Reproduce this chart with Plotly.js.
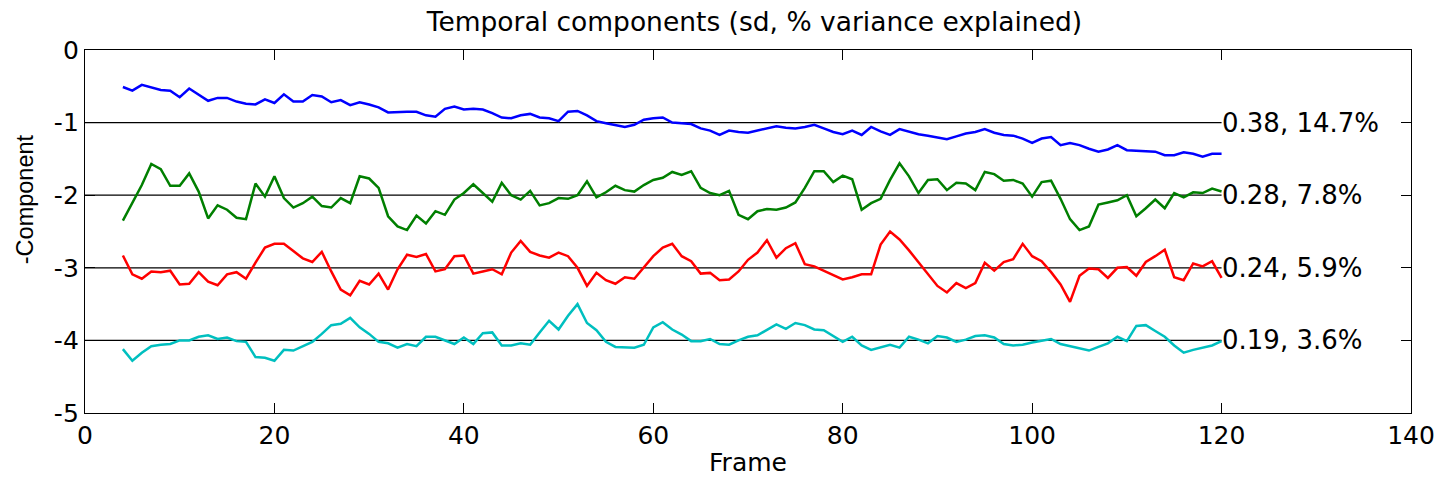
<!DOCTYPE html>
<html>
<head>
<meta charset="utf-8">
<script src="https://cdn.plot.ly/plotly-3.0.1.min.js"></script>
<style>html,body{margin:0;padding:0;background:#fff;}#chart{width:1437px;height:480px;}</style>
</head>
<body>
<div id="chart"></div>
<script>
const frames = [4,5,6,7,8,9,10,11,12,13,14,15,16,17,18,19,20,21,22,23,24,25,26,27,28,29,30,31,32,33,34,35,36,37,38,39,40,41,42,43,44,45,46,47,48,49,50,51,52,53,54,55,56,57,58,59,60,61,62,63,64,65,66,67,68,69,70,71,72,73,74,75,76,77,78,79,80,81,82,83,84,85,86,87,88,89,90,91,92,93,94,95,96,97,98,99,100,101,102,103,104,105,106,107,108,109,110,111,112,113,114,115,116,117,118,119,120];

const comp1 = [-0.51,-0.56,-0.48,-0.51,-0.55,-0.56,-0.65,-0.53,-0.62,-0.70,
-0.66,-0.66,-0.71,-0.74,-0.75,-0.68,-0.73,-0.61,-0.71,-0.71,
-0.62,-0.64,-0.72,-0.69,-0.76,-0.72,-0.75,-0.79,-0.86,-0.85,
-0.85,-0.85,-0.90,-0.92,-0.81,-0.78,-0.82,-0.81,-0.82,-0.87,
-0.93,-0.94,-0.90,-0.88,-0.93,-0.94,-0.98,-0.85,-0.84,-0.90,
-0.98,-1.01,-1.04,-1.06,-1.03,-0.96,-0.94,-0.93,-1.00,-1.01,
-1.02,-1.08,-1.11,-1.17,-1.11,-1.13,-1.14,-1.11,-1.08,-1.05,
-1.07,-1.08,-1.06,-1.03,-1.08,-1.13,-1.16,-1.11,-1.17,-1.06,
-1.12,-1.17,-1.09,-1.13,-1.16,-1.18,-1.20,-1.23,-1.19,-1.15,
-1.13,-1.09,-1.14,-1.17,-1.18,-1.22,-1.28,-1.22,-1.20,-1.31,
-1.28,-1.31,-1.36,-1.40,-1.37,-1.31,-1.38,-1.39,-1.39,-1.40,
-1.45,-1.45,-1.41,-1.43,-1.47,-1.43,-1.43];

const comp2 = [-2.35,-2.11,-1.86,-1.57,-1.64,-1.87,-1.87,-1.70,-1.95,-2.32,
-2.14,-2.20,-2.31,-2.33,-1.84,-2.02,-1.74,-2.04,-2.17,-2.11,
-2.02,-2.15,-2.17,-2.04,-2.11,-1.74,-1.77,-1.90,-2.29,-2.43,
-2.48,-2.28,-2.39,-2.22,-2.27,-2.06,-1.97,-1.85,-1.97,-2.09,
-1.83,-2.00,-2.06,-1.94,-2.14,-2.11,-2.04,-2.05,-2.00,-1.81,
-2.03,-1.96,-1.87,-1.93,-1.95,-1.86,-1.79,-1.76,-1.68,-1.72,
-1.67,-1.90,-1.97,-2.00,-1.94,-2.27,-2.33,-2.22,-2.19,-2.20,
-2.17,-2.10,-1.90,-1.67,-1.67,-1.82,-1.73,-1.78,-2.20,-2.11,
-2.05,-1.79,-1.56,-1.74,-1.97,-1.79,-1.78,-1.93,-1.83,-1.84,
-1.93,-1.68,-1.71,-1.80,-1.79,-1.84,-2.02,-1.82,-1.80,-2.05,
-2.33,-2.48,-2.43,-2.13,-2.10,-2.07,-2.00,-2.29,-2.18,-2.06,
-2.18,-1.97,-2.03,-1.96,-1.97,-1.91,-1.95];

const comp3 = [-2.83,-3.09,-3.15,-3.05,-3.06,-3.04,-3.23,-3.22,-3.06,-3.19,
-3.24,-3.09,-3.06,-3.15,-2.93,-2.72,-2.67,-2.67,-2.77,-2.87,
-2.92,-2.78,-3.05,-3.30,-3.38,-3.18,-3.23,-3.08,-3.30,-3.02,
-2.82,-2.85,-2.81,-3.05,-3.02,-2.84,-2.83,-3.08,-3.05,-3.02,
-3.09,-2.79,-2.63,-2.78,-2.83,-2.86,-2.79,-2.84,-3.00,-3.25,
-3.07,-3.17,-3.22,-3.13,-3.15,-3.00,-2.84,-2.72,-2.67,-2.84,
-2.91,-3.08,-3.07,-3.17,-3.16,-3.05,-2.89,-2.79,-2.62,-2.86,
-2.73,-2.66,-2.95,-2.98,-3.04,-3.10,-3.16,-3.13,-3.09,-3.09,
-2.68,-2.50,-2.61,-2.76,-2.92,-3.09,-3.25,-3.34,-3.21,-3.28,
-3.21,-2.93,-3.04,-2.92,-2.88,-2.67,-2.84,-2.91,-3.06,-3.23,
-3.47,-3.11,-3.01,-3.02,-3.14,-3.00,-2.99,-3.11,-2.92,-2.84,
-2.75,-3.13,-3.17,-2.94,-2.98,-2.91,-3.14];

const comp4 = [-4.12,-4.28,-4.17,-4.08,-4.06,-4.05,-4.00,-4.00,-3.95,-3.93,
-3.98,-3.96,-4.01,-4.02,-4.23,-4.24,-4.28,-4.13,-4.14,-4.08,
-4.02,-3.91,-3.79,-3.77,-3.69,-3.82,-3.91,-4.02,-4.04,-4.10,
-4.05,-4.08,-3.95,-3.95,-4.00,-4.05,-3.96,-4.05,-3.90,-3.89,
-4.07,-4.07,-4.04,-4.06,-3.89,-3.73,-3.85,-3.66,-3.50,-3.76,
-3.86,-4.02,-4.09,-4.09,-4.10,-4.06,-3.82,-3.75,-3.85,-3.92,
-4.01,-4.01,-3.98,-4.05,-4.06,-4.00,-3.95,-3.93,-3.85,-3.78,
-3.84,-3.76,-3.79,-3.85,-3.86,-3.94,-4.02,-3.95,-4.07,-4.13,
-4.09,-4.06,-4.10,-3.95,-3.99,-4.04,-3.94,-3.96,-4.02,-3.99,
-3.94,-3.93,-3.96,-4.05,-4.07,-4.06,-4.03,-4.00,-3.98,-4.05,
-4.08,-4.12,-4.14,-4.09,-4.04,-3.95,-4.01,-3.80,-3.79,-3.87,
-3.95,-4.07,-4.17,-4.13,-4.10,-4.07,-4.01];

const baselines = [-1, -2, -3, -4];
const baselineStart = 0;
const labels = ["0.38, 14.7%", "0.28, 7.8%", "0.24, 5.9%", "0.19, 3.6%"];
const series = [comp1, comp2, comp3, comp4];
const colors = ["#0000ff", "#007f00", "#ff0000", "#00bfbf"];

const xTicks = [0, 20, 40, 60, 80, 100, 120, 140];
const yTicks = [-5, -4, -3, -2, -1, 0];

const WIDE = "DejaVu Sans, Verdana, sans-serif";
const NARROW = "Liberation Sans, Arial, sans-serif";
const lastFrame = frames[frames.length - 1];

const traces = [];
baselines.forEach(b => {
  traces.push({x: [baselineStart, lastFrame], y: [b, b], mode: 'lines',
    line: {color: '#000', width: 1.2}, hoverinfo: 'skip', showlegend: false});
});
series.forEach((s, i) => {
  traces.push({x: frames, y: s, mode: 'lines',
    line: {color: colors[i], width: 2.5}, showlegend: false});
});

const annotations = labels.map((t, i) => ({
  x: lastFrame, y: baselines[i], xref: 'x', yref: 'y', text: t,
  showarrow: false, xanchor: 'left', yanchor: 'middle', xshift: -2,
  font: {family: WIDE, size: 26, color: '#000'}
}));
annotations.push({
  x: -0.0455, xref: 'paper', y: -2.06, yref: 'y', text: '-Component', textangle: -90,
  showarrow: false, xanchor: 'center', yanchor: 'middle',
  font: {family: NARROW, size: 23.5, color: '#000'}
});

const layout = {
  width: 1437, height: 480,
  margin: {l: 85, r: 26, t: 50, b: 67},
  paper_bgcolor: '#fff', plot_bgcolor: '#fff',
  title: {text: 'Temporal components (sd, % variance explained)', x: 0.525, xanchor: 'center', y: 0.955, yanchor: 'middle',
    font: {family: WIDE, size: 26.5, color: '#000'}},
  xaxis: {range: [0, 140], tickvals: xTicks, ticktext: xTicks.map(String), ticks: 'inside', ticklen: 10,
    tickcolor: '#000', showline: true, linecolor: '#000', linewidth: 1.2, mirror: 'ticks',
    showgrid: false, zeroline: false, tickfont: {family: WIDE, size: 25, color: '#000'},
    title: {text: 'Frame', font: {family: WIDE, size: 25, color: '#000'}, standoff: 4}},
  yaxis: {range: [-5, 0], tickvals: yTicks, ticktext: yTicks.map(String), ticks: 'inside', ticklen: 10,
    tickcolor: '#000', showline: true, linecolor: '#000', linewidth: 1.2, mirror: 'ticks',
    showgrid: false, zeroline: false, tickfont: {family: WIDE, size: 25, color: '#000'}},
  annotations: annotations
};

Plotly.newPlot('chart', traces, layout, {staticPlot: true, displayModeBar: false});
</script>
</body>
</html>
